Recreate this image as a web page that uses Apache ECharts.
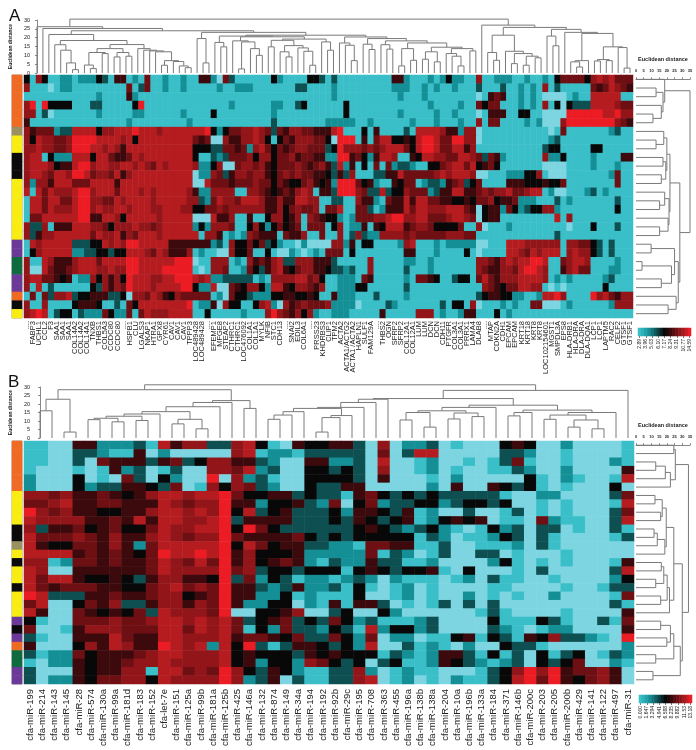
<!DOCTYPE html>
<html>
<head>
<meta charset="utf-8">
<title>Heatmaps</title>
<script src="https://cdn.jsdelivr.net/npm/echarts@6/dist/echarts.min.js"></script>
<style>
  html, body { margin: 0; padding: 0; background: #fff; }
  #main { width: 696px; height: 750px; }
</style>
</head>
<body>
<div id="main"></div>
<script>
// colour level of every cell: 0 light cyan, 4 black, 9 bright red
const levelColors = ['#7cd5e0', '#3abfc8', '#148f96', '#0e4f52', '#080808', '#3c0a0c', '#6e1013', '#921519', '#b51c20', '#ec1c24'];

const genesA = ['....', 'FABP3', 'UCHL1', 'CCL2', 'F3', 'SAA1', 'SAA1', 'SAA1', 'COL14A2', 'COL14A2', 'COL14A1', 'TNXB', 'THBS1', 'COL5A3', 'CCDC80', 'CCDC80', '....', 'HSPB1', 'CLU', 'LGALS3', 'NKAP1', 'HTRA1', 'GPX8', 'CYR61', 'CAV1', 'CAV1', 'CAV1', 'TPPP3', 'LOC489428', 'LOC489428', '....', 'EFEMP1', 'MFGE8', 'STEAP2', 'CTHRC1', 'CTHRC1', 'LOC476092', 'COL1A1', 'COL1A1', 'MYLK', 'NFIB', 'STC1', 'CDH13', '....', 'SNAI2', 'EDIL3', 'COL6A1', '....', 'PRSS23', 'KHDRBS3', 'CLIP1', 'TPM2', 'ACTA2', 'ACTA1/ACTG2', 'ACTA1 /ACTA2', 'HAPLN1', 'SULF1', 'FAM129A', '....', 'THBS2', 'OGN', 'SFRP2', 'SFRP2', 'COL12A1', 'COL12A1', 'LUM', 'LUM', 'DCN', 'DCN', 'CDH11', 'PTGFR', 'COL3A1', 'COL3A1', 'PRRX1', 'LAMA4', 'DLAB8', '....', 'MTAP', 'CDKN2A', 'CDH1', 'EPCAM', 'EPCAM', 'KRT18', 'KRT18', 'KRT8', 'KRT8', 'LOC102154601', 'MGST1', 'SMPDL3A', 'EPS8', 'HLA-DRB1', 'HLA-DRA', 'DLA-DRA', 'DLA-DQA1', 'LCP1', 'LCP1', 'LAPTM5', 'RAC2', 'CELF2', 'GTSF1', 'GTSF1'];

const mirsB = ['cfa-miR-199', 'cfa-miR-214', 'cfa-miR-143', 'cfa-miR-145', 'cfa-miR-28', 'cfa-miR-574', 'cfa-miR-130a', 'cfa-miR-99a', 'cfa-miR-181d', 'cfa-miR-183', 'cfa-miR-152', 'cfa-let-7e', 'cfa-miR-151', 'cfa-miR-125a', 'cfa-miR-99b', 'cfa-miR-181a', 'cfa-miR-125b', 'cfa-miR-425', 'cfa-miR-146a', 'cfa-miR-132', 'cfa-miR-874', 'cfa-miR-149', 'cfa-miR-34a', 'cfa-miR-194', 'cfa-miR-192', 'cfa-miR-92b', 'cfa-miR-29c', 'cfa-miR-195', 'cfa-miR-708', 'cfa-miR-363', 'cfa-miR-455', 'cfa-miR-196a', 'cfa-miR-138b', 'cfa-miR-138a', 'cfa-miR-204', 'cfa-miR-10a', 'cfa-miR-196b', 'cfa-miR-133a', 'cfa-miR-184', 'cfa-miR-371', 'cfa-miR-146b', 'cfa-miR-200c', 'cfa-miR-203', 'cfa-miR-205', 'cfa-miR-200b', 'cfa-miR-429', 'cfa-miR-141', 'cfa-miR-122', 'cfa-miR-497', 'cfa-miR-31'];

// one string per heatmap row, one digit per cell
const rowsA = [
  '4174112212 2243155121 6112112115 5206311111 1421111443 1311111111 1552111212 4221171122 2112112146 66647878666',
  '7111012211 1111111613 6112112111 1121122211 1111133111 1211111111 1222112121 1211131113 1121217131 11116568765',
  '1111111111 1121111521 1111111111 1111111111 1111111111 1211111111 1121112111 1111101565 1121210000 12118888811',
  '7919444411 1331111149 1111111111 1111211111 1221134111 1114111111 1111111211 1121164661 1121217140 43338888766',
  '7713011111 1121111122 1111112111 1411111111 1211111111 1114111111 1121111121 1211101555 1144110000 99999988977',
  '5111111111 1111111211 1111111211 1111111111 1311111111 2222211211 1111211121 1121171661 1112120007 99999999765',
  '7566623388 8847788898 8878888888 9424667787 6365776655 5891114151 1113188887 5527701111 1111111016 11111112311',
  '7487766799 9988887848 8888888865 6007557787 4146577766 4099915168 8445489986 6997701111 1111111231 11111111111',
  '7787766799 9887875888 8888888844 4336656278 6465677666 3497776767 8886489986 6885711111 1111113441 11114411111',
  '7881422288 8488655687 8888888841 1323666747 7466756655 2299564258 8711548877 6688763652 1111117224 11112111155',
  '7888745589 9788778878 7687888872 2470067767 5466676567 5382514161 6233211446 7886845641 1111110000 11112111211',
  '7887688799 8677685788 8888888802 2763577677 5467676655 4353711133 5586666678 7888700111 2224471000 11111112611',
  '7277588866 6888858888 8888888800 8666566676 6465446754 5299964521 1546612332 5673461111 5554445446 11111111611',
  '8186877789 9788868887 8788888752 2777711776 5456578715 5399976338 3447666235 5885567677 8667881200 11123121111',
  '1886886689 9776687888 8788888773 2687768887 5575588771 1331175521 6558588665 5445466745 5622211131 21111111311',
  '1886877789 9787788788 8778887744 6676777777 5574676671 6681166312 5558688777 8886504552 6423447721 11111111411',
  '1668888889 9558874888 8878888800 0855711511 4774571765 4421266677 8997788666 7887604551 1111111181 71111111111',
  '7337155588 8776477787 7678888824 2777611474 2464561666 1471225154 8885677644 4461170111 2111111111 01114111311',
  '7357788888 8687785768 8878888881 7751212765 5516557116 1171373227 7776766666 7776611111 1111111131 11111111111',
  '1878888833 3448787998 8888555555 5231744646 3421102000 0772514411 1127811121 2222200111 8887777771 77664313111',
  '1478888822 3344344888 7687555712 1100744611 4100210121 6661411111 1115511121 1114101111 8876878881 78774313111',
  '7118755578 8868888998 8888899901 1777121756 5783377755 5311111711 1112211211 1111177657 8788998116 78871111211',
  '7008655678 8877877998 8889999910 1776112643 5785467755 4332311711 1113111211 1111176557 7689987115 78661112211',
  '7886654512 2747574988 8778899987 8223333312 1777788674 1122216511 1112166541 1344168657 7788887121 21111123111',
  '7181311111 1437576988 8788889942 2800654774 2885477657 1122244111 1113111111 1111117654 6688771010 11111141111',
  '1616377834 4555334077 6875476666 6120644322 2445544541 1522211131 1112111111 1111134554 4221128897 11119786577',
  '7117111145 5541131648 8888888912 2507441147 8207567666 7222201111 3211111113 1441701112 1211660001 21111112777',
  '7898134413 2226422616 8777888811 4111112111 7976574721 1222111115 1111177712 1125511141 2111111111 11111111111'
];

const rowsB = [
  '1100552223 1857733784 1054455307 0223010004 5400200001',
  '1100332115 0200000781 2213333306 0388000003 3200100001',
  '1100306555 3563477553 2005522308 0012001013 6100100021',
  '1000101523 0130077682 3004434307 0012010011 3200200005',
  '2000401063 0420090723 1004444305 0001020000 0410210018',
  '2000423355 4360174763 2004335500 0002050054 3410100040',
  '7767556545 7887889644 5534331564 3434333331 0022000036',
  '6678556655 5876779552 4453260462 3344234434 0010100018',
  '9767554455 7887879483 4533342554 3512003001 3010100036',
  '8777755658 5887789355 5533343543 4512454501 1062110038',
  '7355645644 6877889496 4333333454 3234210142 3033010031',
  '8666765755 7876779655 5564343444 4413201124 3031000013',
  '8544665752 6888889486 4553322166 5511300111 2031000000',
  '8888565654 6988989574 4452222261 3201300330 1000100000',
  '7712665655 6876869574 5652132253 3112000024 1010100015',
  '8700555555 6877779673 4434441454 3445104000 1030000038',
  '8688544543 5775549362 4312212320 2111012031 1001000024',
  '8656665544 6786769553 2352231410 1201000011 0000100133',
  '9833355655 6774569552 2412111400 1201002010 1002000016',
  '6800465733 5775769522 4402151553 0101303030 0000000031',
  '8500654546 3877769004 4570034004 2000000131 0000100005',
  '4100666766 7887878634 5634364231 1123000041 1143100316',
  '6001577766 6886878614 2633243182 4423000032 1012200005',
  '3100555865 5887778566 5463364260 2201145143 1547332109',
  '5000475875 5987828493 1355434280 0312102004 3310000002',
  '3122645556 7887778454 4435454441 3212553141 3041340132',
  '1022545567 7877778452 4427643403 4112543212 3043460021',
  '3000545577 1886769743 5421133720 1211000134 7979566750',
  '3022546677 4877779723 5031133780 1201021134 8969546750'
];

// sample groups, top to bottom, as [group, number of rows]
const groupColors = { O: '#ef6b23', K: '#9a9060', Y: '#f7ec13', B: '#0a0a0a', P: '#6b3a98', G: '#0e6b3d' };
const groupsA = [['O', 6], ['K', 1], ['Y', 2], ['B', 3], ['Y', 7], ['P', 2], ['G', 2], ['P', 2], ['O', 1], ['B', 1], ['Y', 1]];
const groupsB = [['O', 6], ['Y', 4], ['B', 2], ['K', 1], ['Y', 1], ['B', 1], ['Y', 2], ['B', 1], ['Y', 3], ['P', 1], ['B', 1], ['P', 1], ['O', 1], ['G', 2], ['P', 2]];

// dendrograms: [distance, left, right], a plain number is a leaf
const colTreeA = [30.5,
  [26.2, 0, [25.2, 1, [23.9,
    [21.8, 2, [18.4,
      [16, 3, [12.9, 4, [5.7, 5, [1.9, 6, 7]]]],
      [16.1,
        [13.8, [11.6, [4.5, 8, [2.5, 9, 10]], [11, 11, 12]], [11.6, [9.1, 13, 14], [9.5, 15, 16]]],
        [13.8, 17, [12.9, 18, [12.5, 19, [12, 20, [7, [4.4, 21, 22], [6.5, 23, [4, 24, [3, 25, 26]]]]]]]]
      ]
    ]],
    [23,
      [19.5, 27, [5.7, 28, 29]],
      [21.4,
        [20.9,
          [17.3, 30, [14.8, 31, 32]],
          [20.5,
            [18.2, 33, [17.6, [2.3, 34, 35], [13.8, 36, [10, 37, 38]]]],
            [19.2,
              [18.5, [14.8, 39, 40], [15.5, [12, 41, [9.1, 42, 43]], [14.2, 44, [12.3, 45, [4.4, 46, 47]]]]],
              [17.6, 48, [12.9, 49, 50]]
            ]
          ]
        ],
        [20.4,
          [17, 51, [15.7, 52, [7, 53, 54]]],
          [19.5,
            [16.3, 55, [13.3, 56, 57]],
            [18.2,
              [16, 58, [13.5, 59, 60]],
              [17,
                [13.8, [4, 61, 62], [7.2, 63, 64]],
                [14.6, [12, [7.8, 65, 66], [6.3, 67, 68]], [13.8, [11, 69, [9.5, 70, [4, 71, 72]]], [12.5, 73, 74]]]
              ]
            ]
          ]
        ]
      ]
    ]
  ]]],
  [27.1, 75, [25.8,
    [21.4, [11.6, 76, [7.2, 77, 78]], [12.3, 79, [11, [5.3, 80, 81], [9.5, [4.4, 82, 83], [8.6, 84, 85]]]]],
    [24.7,
      [20.9, 86, [15.4, 87, 88]],
      [23, 89, [22.4,
        [7, [6.3, 90, [3.4, 91, 92]], 93],
        [14.8, [7.6, [6.8, 94, 95], [7, 96, 97]], [14.4, 98, [2.8, 99, 100]]]
      ]]
    ]
  ]]
];

const rowTreeA = [35,
  [18.6, 0, [17.5, [13, 1, 2], [16.4, 3, [11, 4, 5]]]],
  [28.4,
    [22,
      [20, [18, 6, [13, 7, 8]], [19.3, [17.5, 9, 10], [16.4, 11, 12]]],
      [21.4, [18.6, 13, [15.3, 14, 15]], [20.8, 16, [15.3, 17, 18]]]
    ],
    [27.4,
      [25, [9.8, 19, 20], [23, [3.9, 21, 22], [16.4, 23, 24]]],
      [26, 25, [20.8, 26, 27]]
    ]
  ]
];

const colTreeB = [31.3,
  [28.4,
    [22.8, [16, 0, 1], [3.5, 2, 3]],
    [22,
      [20.9, [18.4, [15.5,
        [14.1, [12.8, [11.6, [10.8, 4, 5], [9.5, 6, 7]], [10.3, 8, 9]], 10],
        [11, [8.3, 11, 12], [5.4, 13, 14]]
      ], 15], 16],
      [17.4, 17, 18]
    ]
  ],
  [28,
    [23.2,
      [22.8, [20.9, [18, [17.4,
        [15.5, [13.5, [11, 19, 20], 21], 22],
        [13.2, [12, [3.5, 23, 24], 25], 26]
      ], 27], 28], 29],
      [19.3,
        [18, [16, [15, [10.6, 30, 31], [6.4, 32, 33]], [14.7, [11.2, 34, 35], [12.6, 36, 37]]], 38],
        [16.4,
          [15, [13, 39, 40], 41],
          [15, [13.5, [11, 42, 43], [10.6, [6.4, 44, 45], [5.4, 46, 47]]], 48]
        ]
      ]
    ],
    49
  ]
];

const rowTreeB = [34,
  [25.5, [24.5, 0, 1], [22.3, [19, [12.8, 2, 3], 4], 5]],
  [30,
    [24.5,
      [19.6, [17, [12.3, 6, 7], [16, 8, 9]], [18.7, [13.8, [11.7, 10, 11], 12], 13]],
      [21.7, [20.2, [18, [16.4, 14, 15], [12.8, 16, 17]], [16, 18, 19]], 20]
    ],
    [28.7,
      [24.5, [22.3, [16, 21, 22], [20, 23, 24]], [12.8, 25, 26]],
      [11, 27, 28]
    ]
  ]
];

const distanceTicks = [0, 5, 10, 15, 20, 25, 30, 35];
const legendCells = [1, 1.3, 1.6, 2, 2.4, 2.8, 3.2, 3.6, 4, 4.4, 5, 5.5, 6, 6.8, 7.5, 8.2, 9];
const legendLabelsA = ['2.89', '', '3.96', '', '5.03', '', '6.10', '', '7.17', '', '8.24', '', '9.31', '', '10.77', '', '14.59'];
const legendLabelsB = ['0.000', '', '1.647', '', '3.294', '', '4.941', '', '6.588', '', '8.235', '', '9.882', '', '11.53', '', '13.18'];

const FONT = '"Liberation Sans", Arial, sans-serif';
const LINE = '#7a7a7a';

const grids = [];
const xAxes = [];
const yAxes = [];
const series = [];
const heatSeries = [];

function addGrid(rect, xAxis, yAxis) {
  const i = grids.length;
  grids.push(Object.assign({ containLabel: false }, rect));
  xAxes.push(Object.assign({ gridIndex: i }, xAxis));
  yAxes.push(Object.assign({ gridIndex: i }, yAxis));
  return i;
}

function parseRows(rows) {
  return rows.map(r => r.replace(/ /g, '').split('').map(Number));
}

// walks a tree, leaves sit on their index and a node midway between its children
function treeSegments(node, out) {
  if (typeof node === 'number') return { pos: node, dist: 0 };
  const a = treeSegments(node[1], out);
  const b = treeSegments(node[2], out);
  out.push([a.pos, a.dist, a.pos, node[0]]);
  out.push([b.pos, b.dist, b.pos, node[0]]);
  out.push([a.pos, node[0], b.pos, node[0]]);
  return { pos: (a.pos + b.pos) / 2, dist: node[0] };
}

function dendroSeries(gridIndex, segments, horizontal) {
  return {
    type: 'custom',
    xAxisIndex: gridIndex,
    yAxisIndex: gridIndex,
    silent: true,
    clip: false,
    data: segments,
    renderItem: function (params, api) {
      const v = [api.value(0), api.value(1), api.value(2), api.value(3)];
      const p1 = api.coord(horizontal ? [v[1], v[0]] : [v[0], v[1]]);
      const p2 = api.coord(horizontal ? [v[3], v[2]] : [v[2], v[3]]);
      return {
        type: 'line',
        shape: { x1: p1[0], y1: p1[1], x2: p2[0], y2: p2[1] },
        style: { stroke: LINE, lineWidth: 1, fill: null }
      };
    }
  };
}

function addPanel(p) {
  const matrix = parseRows(p.rows);
  const nRows = matrix.length;
  const nCols = p.labels.length;

  // main heatmap
  const hm = addGrid(
    { left: p.left, top: p.top, width: p.width, height: p.height },
    {
      type: 'category', data: p.labels, axisLine: { show: false }, axisTick: { show: false },
      axisLabel: { interval: 0, rotate: 90, fontSize: p.labelSize, margin: p.labelMargin, color: '#222', fontFamily: FONT }
    },
    { type: 'category', inverse: true, data: matrix.map((r, i) => i), show: false }
  );
  const cells = [];
  matrix.forEach((row, r) => row.forEach((v, c) => cells.push([c, r, v])));
  heatSeries.push(series.length);
  series.push({ type: 'heatmap', xAxisIndex: hm, yAxisIndex: hm, data: cells, progressive: 0, silent: true });

  // sample groups strip, the third value only says which group
  const st = addGrid(
    { left: p.stripLeft, top: p.top, width: 10, height: p.height, show: true, borderColor: '#9c9c9c', borderWidth: 1, backgroundColor: 'transparent' },
    { type: 'category', data: ['group'], show: false },
    { type: 'category', inverse: true, data: matrix.map((r, i) => i), show: false }
  );
  const strip = [];
  p.groups.forEach(g => {
    for (let i = 0; i < g[1]; i++) {
      strip.push({ value: [0, strip.length, 1], itemStyle: { color: groupColors[g[0]] } });
    }
  });
  series.push({ type: 'heatmap', xAxisIndex: st, yAxisIndex: st, data: strip, progressive: 0, silent: true });

  // column dendrogram
  const cd = addGrid(
    { left: p.left, top: p.dendroTop, width: p.width, height: p.dendroHeight },
    { type: 'value', min: -0.5, max: nCols - 0.5, show: false },
    {
      type: 'value', min: 0, max: 30, interval: 5, offset: 2, splitLine: { show: false },
      axisLine: { show: true, lineStyle: { color: '#555', width: 0.7 } },
      axisTick: { show: true, length: 2, lineStyle: { color: '#555', width: 0.7 } },
      axisLabel: { fontSize: 5.5, margin: 2, color: '#222', fontFamily: FONT },
      name: 'Euclidean distance', nameLocation: 'middle', nameRotate: 90, nameGap: 10,
      nameTextStyle: { fontSize: 5, fontWeight: 'bold', color: '#222', fontFamily: FONT }
    }
  );
  const colSegs = [];
  treeSegments(p.colTree, colSegs);
  series.push(dendroSeries(cd, colSegs, false));

  // row dendrogram
  const rd = addGrid(
    { left: p.rowLeft, top: p.top, width: p.rowWidth, height: p.height },
    {
      type: 'value', min: distanceTicks[0], max: distanceTicks[distanceTicks.length - 1], interval: 5,
      position: 'top', splitLine: { show: false },
      axisLine: { show: true, lineStyle: { color: '#555', width: 0.7 } },
      axisTick: { show: true, length: 2, lineStyle: { color: '#555', width: 0.7 } },
      axisLabel: { fontSize: 4, margin: 2, color: '#222', fontFamily: FONT, fontWeight: 'bold' },
      name: 'Euclidean distance', nameLocation: 'middle', nameGap: 13,
      nameTextStyle: { fontSize: 5.5, fontWeight: 'bold', color: '#222', fontFamily: FONT }
    },
    { type: 'value', inverse: true, min: -0.5, max: nRows - 0.5, show: false }
  );
  const rowSegs = [];
  treeSegments(p.rowTree, rowSegs);
  series.push(dendroSeries(rd, rowSegs, true));

  // colour key
  const lg = addGrid(
    { left: p.keyLeft, top: p.keyTop, width: 53, height: 8 },
    {
      type: 'category', data: p.keyLabels,
      axisLine: { show: false },
      axisTick: { show: true, length: 2, alignWithLabel: true, interval: 1, lineStyle: { color: '#444', width: 0.7 } },
      axisLabel: { interval: 0, rotate: 90, fontSize: 5, margin: 3, color: '#222', fontFamily: FONT }
    },
    { type: 'category', data: ['key'], show: false }
  );
  heatSeries.push(series.length);
  series.push({
    type: 'heatmap', xAxisIndex: lg, yAxisIndex: lg, progressive: 0, silent: true,
    data: legendCells.map((v, i) => [i, 0, v])
  });
}

addPanel({
  rows: rowsA, labels: genesA, groups: groupsA, colTree: colTreeA, rowTree: rowTreeA, keyLabels: legendLabelsA,
  left: 24, top: 75, width: 609, height: 243, stripLeft: 12,
  labelSize: 7.5, labelMargin: 3,
  dendroTop: 20, dendroHeight: 53,
  rowLeft: 636, rowWidth: 54,
  keyLeft: 638, keyTop: 328
});

addPanel({
  rows: rowsB, labels: mirsB, groups: groupsB, colTree: colTreeB, rowTree: rowTreeB, keyLabels: legendLabelsB,
  left: 24, top: 441, width: 610, height: 243, stripLeft: 12,
  labelSize: 9.5, labelMargin: 5,
  dendroTop: 387, dendroHeight: 51,
  rowLeft: 636, rowWidth: 54,
  keyLeft: 639, keyTop: 695
});

const chart = echarts.init(document.getElementById('main'), null, { renderer: 'canvas' });
chart.setOption({
  animation: false,
  backgroundColor: '#fff',
  title: [
    { text: 'A', left: 4, top: 3, textStyle: { fontSize: 17, fontWeight: 'normal', color: '#111', fontFamily: FONT } },
    { text: 'B', left: 3, top: 369, textStyle: { fontSize: 17, fontWeight: 'normal', color: '#111', fontFamily: FONT } }
  ],
  visualMap: {
    type: 'continuous', show: false, min: 0, max: 9, seriesIndex: heatSeries,
    inRange: { color: levelColors }
  },
  grid: grids,
  xAxis: xAxes,
  yAxis: yAxes,
  series: series
});
</script>
</body>
</html>
